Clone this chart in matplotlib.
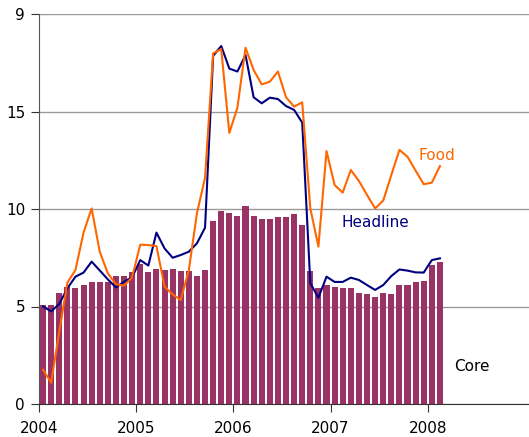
import numpy as np
import matplotlib
matplotlib.use('Agg')
import matplotlib.pyplot as plt

# monthly data, Jan 2004 - Feb 2008 (in %)
core = [5.08, 5.08, 5.69, 5.98, 5.95, 6.1, 6.26, 6.26, 6.26, 6.56, 6.56, 6.77,
        7.17, 6.77, 6.92, 6.87, 6.92, 6.82, 6.82, 6.56, 6.87, 9.38, 9.9, 9.8,
        9.62, 10.15, 9.62, 9.49, 9.49, 9.57, 9.57, 9.73, 9.18, 6.82, 5.97, 6.1,
        6.0, 5.97, 5.97, 5.68, 5.64, 5.5, 5.71, 5.64, 6.1, 6.1, 6.26, 6.31,
        7.13, 7.28]
headline = [5.0, 4.75, 5.13, 5.93, 6.53, 6.74, 7.3, 6.85, 6.39, 5.98, 6.27, 6.5,
            7.38, 7.1, 8.79, 7.98, 7.5, 7.64, 7.81, 8.24, 9.04, 17.85, 18.36, 17.2,
            17.05, 17.9, 15.73, 15.42, 15.71, 15.64, 15.28, 15.08, 14.43, 6.19, 5.45, 6.53,
            6.26, 6.26, 6.48, 6.36, 6.1, 5.85, 6.1, 6.56, 6.9, 6.84, 6.75, 6.74,
            7.38, 7.47]
food = [1.76, 1.09, 3.7, 6.22, 6.87, 8.79, 10.03, 7.81, 6.7, 6.14, 6.07, 6.5,
        8.17, 8.15, 8.1, 6.02, 5.62, 5.33, 6.87, 9.78, 11.6, 17.98, 18.2, 13.9,
        15.2, 18.27, 17.13, 16.39, 16.53, 17.05, 15.73, 15.25, 15.47, 10.03, 8.07, 12.97,
        11.23, 10.84, 12.0, 11.44, 10.72, 10.03, 10.43, 11.74, 13.03, 12.68, 11.97, 11.27,
        11.35, 12.2]
years = ['2004', '2005', '2006', '2007', '2008']
ytick_labels = ['0', '5', '10', '15', '9']

x = np.arange(len(core)) + 0.5

fig = plt.figure(figsize=(5.29, 4.37), dpi=100)
ax = fig.add_axes([39 / 529, 33 / 437, 490 / 529, 390 / 437])

ax.bar(x, core, width=0.75, color='#993366', zorder=2)
ax.plot(x, headline, color='#000080', lw=1.5, zorder=3)
ax.plot(x, food, color='#FF6600', lw=1.5, zorder=4)

ax.set_xlim(0, 60.5)
ax.set_ylim(0, 20)
ax.set_yticks([0, 5, 10, 15, 20])
ax.set_yticklabels(ytick_labels, fontsize=11)
ax.set_xticks(np.arange(len(years)) * 12)
ax.set_xticklabels(years, fontsize=11)
ax.tick_params(axis='y', length=6, direction='out', color='#333333', pad=4)
ax.tick_params(axis='x', length=6, direction='out', color='#333333', pad=6)

ax.grid(axis='y', color='#999999', lw=1, zorder=0)
ax.set_axisbelow(True)
for s in ['top', 'right']:
    ax.spines[s].set_visible(False)
ax.spines['left'].set_color('#555555')
ax.spines['bottom'].set_color('#333333')

ax.text(46.8, 12.75, 'Food', color='#FF6600', fontsize=11, ha='left', va='center')
ax.text(37.3, 9.3, 'Headline', color='#000080', fontsize=11, ha='left', va='center')
ax.text(51.2, 1.9, 'Core', color='black', fontsize=11, ha='left', va='center')

fig.savefig('out.png', dpi=100)
